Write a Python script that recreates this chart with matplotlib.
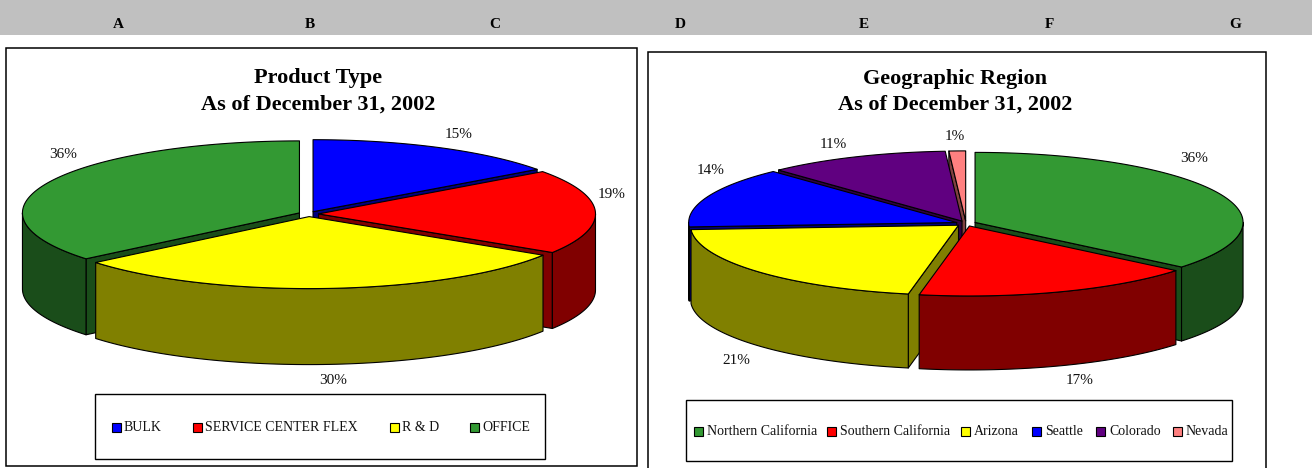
# -*- coding: utf-8 -*-
"""
Two exploded 3D pies: portfolio by product type and by geographic region.
"""

import numpy as np
import matplotlib
matplotlib.use("Agg")
import matplotlib.pyplot as plt
from matplotlib.patches import Polygon, Rectangle

plt.rcParams['font.family'] = ['Liberation Serif', 'DejaVu Serif']

column_letters = ["A", "B", "C", "D", "E", "F", "G"]

product_names = ["BULK", "SERVICE CENTER FLEX", "R & D", "OFFICE"]
product_values = [15, 19, 30, 36]

region_names = ["Northern California", "Southern California", "Arizona",
                "Seattle", "Colorado", "Nevada"]
region_values = [36, 17, 21, 14, 11, 1]

title_lines = ["As of December 31, 2002"]

BLUE = ("#0000FF", "#000080")
RED = ("#FF0000", "#800000")
YELLOW = ("#FFFF00", "#808000")
GREEN = ("#339933", "#1A4D1A")
PURPLE = ("#600080", "#300040")
PINK = ("#FF8080", "#804040")

W, H = 1312, 468


def xy(cx, cy, rx, ry, deg):
    """Point on the rim, angle measured clockwise from the top."""
    t = np.radians(deg)
    return cx + rx * np.sin(t), cy - ry * np.cos(t)


def add_shape(ax, pts, color):
    ax.add_patch(Polygon(pts, closed=True, facecolor=color, edgecolor="black",
                         linewidth=0.8, joinstyle="round"))


def draw_pie(ax, values, colors, order, cx, cy, rx, ry, depth, explode=10.):
    stops = np.concatenate(([0.], np.cumsum(values))) * 360. / np.sum(values)

    for i in order:
        a0, a1 = stops[i], stops[i + 1]
        mid = np.radians((a0 + a1) / 2.)
        x0 = cx + explode * np.sin(mid)
        y0 = cy - explode * np.cos(mid) * ry / rx
        top, side = colors[i]

        # cut faces that turn towards the viewer
        for a, visible in ((a0, np.sin(np.radians(a0)) < -1e-6),
                           (a1, np.sin(np.radians(a1)) > 1e-6)):
            if visible:
                ex, ey = xy(x0, y0, rx, ry, a)
                add_shape(ax, [(x0, y0), (ex, ey), (ex, ey + depth), (x0, y0 + depth)], side)

        # outer wall, front half of the rim only
        w0, w1 = max(a0, 90.), min(a1, 270.)
        if w1 > w0:
            ang = np.linspace(w0, w1, 80)
            px, py = xy(x0, y0, rx, ry, ang)
            pts = list(zip(px, py)) + list(zip(px[::-1], py[::-1] + depth))
            add_shape(ax, pts, side)

        ang = np.linspace(a0, a1, 120)
        px, py = xy(x0, y0, rx, ry, ang)
        add_shape(ax, [(x0, y0)] + list(zip(px, py)), top)


def draw_legend(ax, names, colors, xs, y, gap):
    for name, col, x in zip(names, colors, xs):
        ax.add_patch(Rectangle((x, y - 4.5), 9, 9, facecolor=col[0], edgecolor="black", linewidth=0.8))
        ax.text(x + gap, y + 0.5, name, fontsize=10, va="center", ha="left", color="#111111")


def draw_labels(ax, values, positions):
    for v, (x, y) in zip(values, positions):
        ax.text(x, y + 1, "%d%%" % v, fontsize=11, ha="center", va="center", color="#111111")


fig = plt.figure(figsize=(W / 100., H / 100.), dpi=100, facecolor="white")
ax = fig.add_axes([0, 0, 1, 1])
ax.set_xlim(0, W)
ax.set_ylim(H, 0)
ax.axis("off")

# spreadsheet column header
ax.add_patch(Rectangle((0, 0), W, 35, facecolor="#C0C0C0", edgecolor="none"))
for letter, x in zip(column_letters, [118, 310, 495, 680, 864, 1049, 1235]):
    ax.text(x, 25, letter, fontsize=11, fontweight="bold", ha="center", va="center")

# panel frames
ax.add_patch(Rectangle((6, 48), 631, 418, facecolor="white", edgecolor="black", linewidth=1.1))
ax.add_patch(Rectangle((648, 52), 618, 430, facecolor="white", edgecolor="black", linewidth=1.1))

ax.text(318, 78, "Product Type", fontsize=16, fontweight="bold", ha="center", va="center")
ax.text(318, 104.5, title_lines[0], fontsize=16, fontweight="bold", ha="center", va="center")
ax.text(955, 79, "Geographic Region", fontsize=16, fontweight="bold", ha="center", va="center")
ax.text(955, 104.5, title_lines[0], fontsize=16, fontweight="bold", ha="center", va="center")

product_colors = [BLUE, RED, YELLOW, GREEN]
draw_pie(ax, product_values, product_colors, [0, 1, 3, 2], 308.5, 214., 277., 72., 76.)
draw_labels(ax, product_values, [(459, 133), (612, 193), (333, 380), (63, 153)])

region_colors = [GREEN, RED, YELLOW, BLUE, PURPLE, PINK]
draw_pie(ax, region_values, region_colors, [5, 4, 3, 0, 2, 1], 966., 223.5, 268., 70., 74.)
draw_labels(ax, region_values, [(1194, 158), (1080, 380), (736, 359), (711, 170), (833, 143), (955, 136)])

# legends
ax.add_patch(Rectangle((95, 394), 450, 65, facecolor="white", edgecolor="black", linewidth=1.))
draw_legend(ax, product_names, product_colors, [112, 193, 390, 470], 427, 12)

ax.add_patch(Rectangle((686, 400), 546, 61, facecolor="white", edgecolor="black", linewidth=1.))
draw_legend(ax, region_names, region_colors, [694, 827, 961, 1032, 1096, 1173], 431, 13)

plt.savefig("out.png", dpi=100)
plt.close()
